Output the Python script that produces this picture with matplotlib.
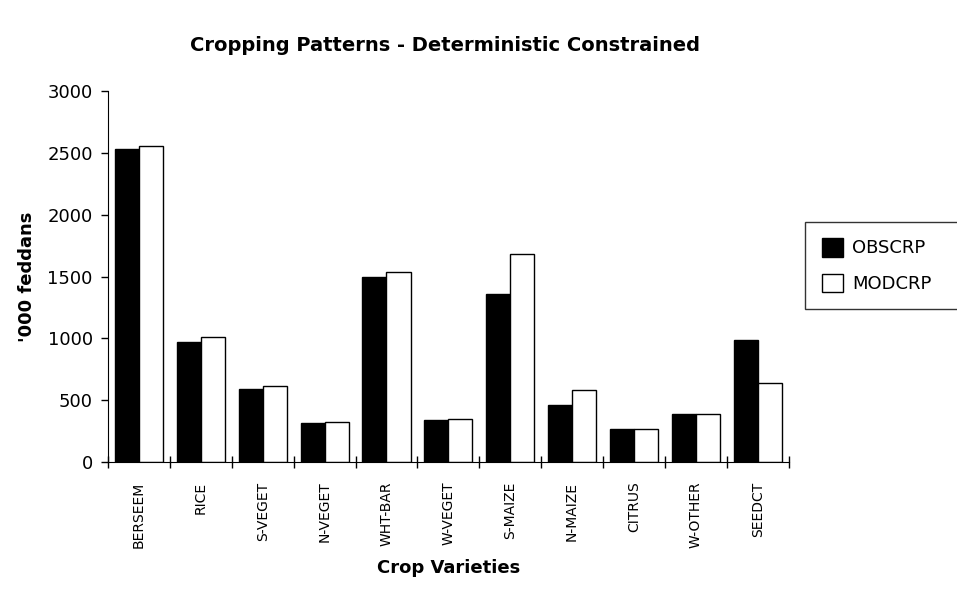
import numpy as np
import matplotlib.pyplot as plt
from matplotlib.patches import Patch

# crop areas, '000 feddans
crops = ['BERSEEM', 'RICE', 'S-VEGET', 'N-VEGET', 'WHT-BAR', 'W-VEGET',
         'S-MAIZE', 'N-MAIZE', 'CITRUS', 'W-OTHER', 'SEEDCT']
obscrp = [2528, 973, 588, 313, 1493, 337, 1358, 461, 272, 390, 989]
modcrp = [2557, 1008, 614, 323, 1539, 350, 1681, 582, 272, 390, 639]
yticks = [0, 500, 1000, 1500, 2000, 2500, 3000]

plt.rcParams['font.family'] = ['DejaVu Sans']

fig = plt.figure(figsize=(9.57, 5.91), dpi=100)
ax = fig.add_axes([0.113, 0.218, 0.711, 0.628])

x = np.arange(len(crops))
w = 0.39
ax.bar(x - w / 2, obscrp, w, color='black', edgecolor='black', linewidth=1)
ax.bar(x + w / 2, modcrp, w, color='white', edgecolor='black', linewidth=1)

ax.set_xlim(-0.5, len(crops) - 0.5)
ax.set_ylim(0, 3000)
ax.set_yticks(yticks)
ax.set_yticklabels([str(t) for t in yticks], fontsize=13)
ax.tick_params(axis='y', direction='out', length=5, width=1, pad=6)

# category labels centred, tick marks on category boundaries
ax.set_xticks(x)
ax.set_xticklabels(crops, rotation=90, fontsize=10)
ax.tick_params(axis='x', length=0, pad=14)
ax.set_xticks(np.arange(len(crops) + 1) - 0.5, minor=True)
ax.tick_params(axis='x', which='minor', direction='inout', length=8, width=1)

for s in ['top', 'right']:
    ax.spines[s].set_visible(False)

ax.set_ylabel("'000 feddans", fontsize=13, fontweight='bold', labelpad=8)
ax.set_xlabel('Crop Varieties', fontsize=13, fontweight='bold', labelpad=8)
fig.text(0.465, 0.923, 'Cropping Patterns - Deterministic Constrained',
         ha='center', va='center', fontsize=14, fontweight='bold')

handles = [Patch(facecolor='black', edgecolor='black', label='OBSCRP'),
           Patch(facecolor='white', edgecolor='black', label='MODCRP')]
leg = fig.legend(handles=handles, loc='upper left',
                 bbox_to_anchor=(0.832, 0.640, 0.2, 0.0), mode='expand',
                 fontsize=13, frameon=True, fancybox=False, edgecolor='black',
                 handlelength=1.2, handleheight=1.2, labelspacing=0.9,
                 borderpad=0.9, handletextpad=0.5)
leg.get_frame().set_linewidth(1)

fig.savefig('out.png', dpi=100)
